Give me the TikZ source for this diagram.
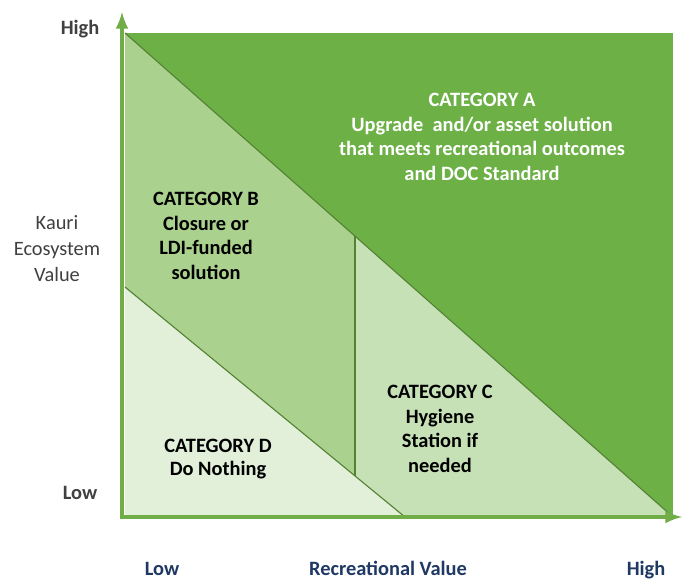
\documentclass[tikz,border=0pt]{standalone}
\usepackage{fontspec}
\setmainfont{Carlito}
\usetikzlibrary{shapes,arrows}
\definecolor{catA}{RGB}{108,176,70}
\definecolor{catB}{RGB}{170,209,142}
\definecolor{catC}{RGB}{199,225,182}
\definecolor{catD}{RGB}{226,240,217}
\definecolor{axisgreen}{RGB}{112,173,71}
\definecolor{edgegreen}{RGB}{84,130,53}
\definecolor{axisblue}{RGB}{31,56,100}
\definecolor{labelgray}{RGB}{64,64,64}
\tikzstyle{cat} = [align=center, font=\bfseries\fontsize{14.5}{17.5}\selectfont]
\tikzstyle{axislabel} = [align=center, text=labelgray, font=\fontsize{14.5}{18.5}\selectfont]
\tikzstyle{axis} = [draw=axisgreen, line width=3pt, -latex]
\tikzstyle{edge} = [draw=edgegreen, line width=0.8pt]

\begin{document}
\begin{tikzpicture}[x=0.025cm, y=-0.025cm]
\useasboundingbox (0,0) rectangle (682,580);

\coordinate (tl) at (125,33);
\coordinate (tr) at (673,33);
\coordinate (br) at (673,517);
\coordinate (bl) at (125,517);
\coordinate (ml) at (125,287);
\coordinate (mb) at (405,517);
\coordinate (vtop) at (355,236);
\coordinate (vbot) at (355,476);

% regions
\fill[catA] (tl) rectangle (br);
\fill[catB] (tl) -- (vtop) -- (vbot) -- (ml) -- cycle;
\fill[catC] (vtop) -- (br) -- (mb) -- (vbot) -- cycle;
\fill[catD] (ml) -- (mb) -- (bl) -- cycle;
\draw[edge] (tl) -- (br);
\draw[edge] (ml) -- (mb);
\draw[edge] (vtop) -- (vbot);

% axes
\coordinate (origin) at (122,517);
\coordinate (ytip) at (122,12);
\coordinate (xtip) at (682,517);
\draw[axis] (122,519) -- (ytip);
\draw[axis] (120,517) -- (xtip);

\node[cat, text=white] (catA) at (482,137) {CATEGORY A\\Upgrade \ and/or asset solution\\that meets recreational outcomes\\and DOC Standard};
\node[cat] (catB) at (206,236) {CATEGORY B\\Closure or\\LDI-funded\\solution};
\node[cat] (catC) at (440,429) {CATEGORY C\\Hygiene\\Station if\\needed};
\node[cat, font=\bfseries\fontsize{14.5}{16}\selectfont] (catD) at (218,459) {CATEGORY D\\Do Nothing};

\node[axislabel, font=\bfseries\fontsize{14.5}{18.5}\selectfont] (yhigh) at (80,29) {High};
\node[axislabel, font=\bfseries\fontsize{14.5}{18.5}\selectfont] (ylow) at (80,493) {Low};
\node[axislabel] (ytitle) at (57,249) {Kauri\\Ecosystem\\Value};
\node[cat, text=axisblue, anchor=base] (xlow) at (162,575) {Low};
\node[cat, text=axisblue, anchor=base] (xtitle) at (388,575) {Recreational Value};
\node[cat, text=axisblue, anchor=base] (xhigh) at (646,575) {High};

\end{tikzpicture}
\end{document}
